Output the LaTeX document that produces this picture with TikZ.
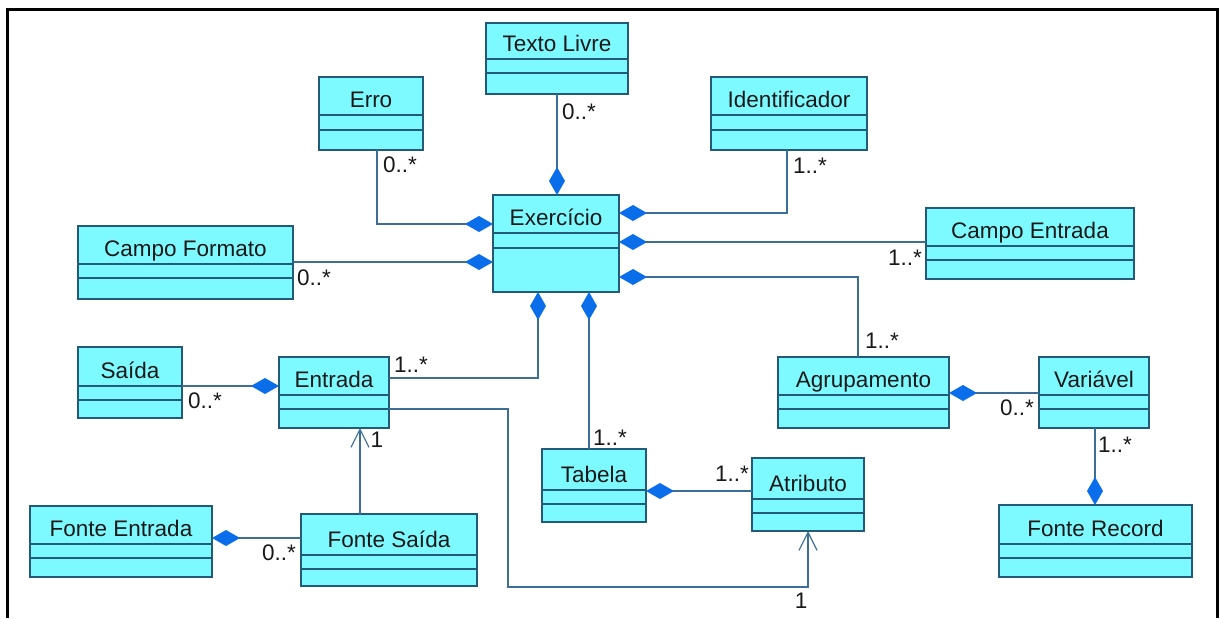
\documentclass[tikz,border=0pt]{standalone}
\usepackage{fontspec}
\setmainfont{Liberation Sans}
\usetikzlibrary{arrows.meta}

\definecolor{classfill}{RGB}{125,250,255}
\definecolor{classedge}{RGB}{35,90,120}
\definecolor{linkcol}{RGB}{60,110,150}
\definecolor{diacol}{RGB}{10,110,235}
\definecolor{inkcol}{RGB}{25,25,25}

\tikzset{
  classbox/.style={draw=classedge, fill=classfill, line width=1pt, inner sep=0pt, outer sep=0pt, anchor=north west},
  classrule/.style={draw=classedge, line width=1pt},
  classname/.style={anchor=base, inner sep=0pt, text=inkcol, font=\fontsize{11.25pt}{13pt}\selectfont},
  mult/.style={inner sep=0pt, text=inkcol, font=\fontsize{11.25pt}{13pt}\selectfont},
  link/.style={draw=linkcol, line width=1pt},
  comp/.style={link, -{Diamond[length=14pt,width=8pt,color=diacol,fill=diacol]}},
  nav/.style={link, -{Straight Barb[length=9pt,width=9pt,line width=0.6pt]}},
}

% UML class with name compartment and two empty compartments
% #1 name, #2 left, #3 top, #4 right, #5 bottom, #6 first rule, #7 second rule, #8 title
\newcommand\umlclass[8]{%
  \node[classbox, minimum width={(#4-#2)*0.5pt}, minimum height={(#5-#3)*0.5pt}] (#1) at (#2,#3) {};
  \draw[classrule] (#2,#6) -- (#4,#6) (#2,#7) -- (#4,#7);
  \node[classname] (#1-name) at ({(#2+#4)/2},{#6-8}) {#8};
}

\begin{document}
\begin{tikzpicture}[x=0.5pt,y=-0.5pt]
  \fill[white] (0,0) rectangle (1220,618);
  \useasboundingbox (0,0) rectangle (1220,618);
  \draw[black, line width=1.5pt] (7,618) -- (7,9) -- (1217,9) -- (1217,618);

  % classes
  \umlclass{tl}{486}{23}{628}{94}{59}{73}{Texto Livre}
  \umlclass{erro}{319}{77}{423}{150}{115}{130}{Erro}
  \umlclass{idf}{711}{77}{867}{150}{115}{130}{Identificador}
  \umlclass{exer}{493}{195}{619}{292}{233}{248}{Exercício}
  \umlclass{cf}{78}{226}{293}{299}{264}{278}{Campo Formato}
  \umlclass{ce}{926}{208}{1134}{279}{246}{260}{Campo Entrada}
  \umlclass{sai}{78}{347}{182}{418}{386}{400}{Saída}
  \umlclass{ent}{279}{357}{389}{428}{395}{409}{Entrada}
  \umlclass{agr}{778}{357}{949}{428}{395}{409}{Agrupamento}
  \umlclass{vari}{1039}{357}{1149}{428}{395}{409}{Variável}
  \umlclass{tab}{542}{449}{646}{522}{490}{504}{Tabela}
  \umlclass{atr}{752}{458}{864}{531}{499}{513}{Atributo}
  \umlclass{fen}{30}{506}{212}{577}{544}{558}{Fonte Entrada}
  \umlclass{fsa}{301}{514}{477}{586}{555}{569}{Fonte Saída}
  \umlclass{frc}{999}{505}{1192}{577}{544}{558}{Fonte Record}

  % compositions into Exercício
  \draw[comp] (tl.south) -- (tl.south |- exer.north);
  \draw[comp] (erro.south -| 377,0) |- (exer.west |- 0,224);
  \draw[comp] (cf.east |- 0,262) -- (exer.west |- 0,262);
  \draw[comp] (idf.south -| 787,0) |- (exer.east |- 0,213);
  \draw[comp] (ce.west |- 0,242) -- (exer.east |- 0,242);
  \draw[comp] (agr.north -| 858,0) |- (exer.east |- 0,277);
  \draw[comp] (ent.east |- 0,378) -| (exer.south -| 538,0);
  \draw[comp] (tab.north -| 589,0) -- (exer.south -| 589,0);

  % other associations
  \draw[comp] (sai.east |- 0,386) -- (ent.west |- 0,386);
  \draw[nav] (fsa.north -| 360,0) -- (ent.south -| 360,0);
  \draw[comp] (fsa.west |- 0,538) -- (fen.east |- 0,538);
  \coordinate (drop) at (508,587);
  \draw[nav] (ent.east |- 0,409) -| (drop) -| (atr.south);
  \draw[comp] (atr.west |- 0,491) -- (tab.east |- 0,491);
  \draw[comp] (vari.west |- 0,393) -- (agr.east |- 0,393);
  \draw[comp] (vari.south -| 1095,0) -- (frc.north -| 1095,0);

  % multiplicities
  \node[mult] (m1) at (579,112) {0..*};
  \node[mult] (m2) at (400,165) {0..*};
  \node[mult] (m3) at (314,278) {0..*};
  \node[mult] (m4) at (810,166) {1..*};
  \node[mult] (m5) at (905,258) {1..*};
  \node[mult] (m6) at (882,341) {1..*};
  \node[mult] (m7) at (411,365) {1..*};
  \node[mult] (m8) at (610,438) {1..*};
  \node[mult] (m9) at (205,401) {0..*};
  \node[mult] (m10) at (732,474) {1..*};
  \node[mult] (m11) at (801,601) {1};
  \node[mult] (m12) at (377,440) {1};
  \node[mult] (m13) at (279,553) {0..*};
  \node[mult] (m14) at (1017,408) {0..*};
  \node[mult] (m15) at (1115,445) {1..*};
\end{tikzpicture}
\end{document}
